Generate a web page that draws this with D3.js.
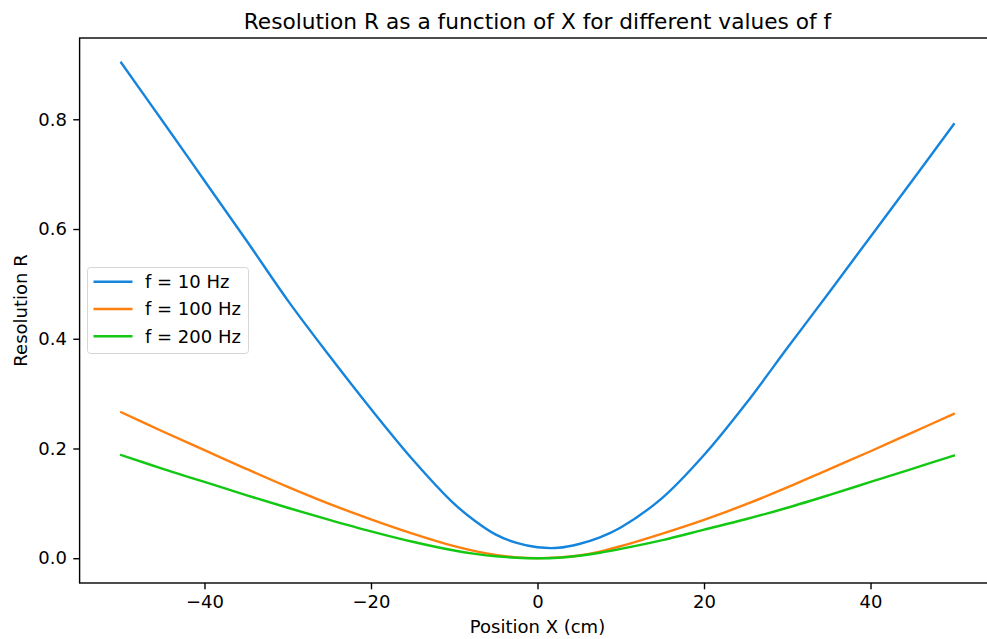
<!DOCTYPE html>
<html lang="en">
<head>
  <meta charset="UTF-8">
  <title>Resolution R</title>
  <script src="https://cdn.jsdelivr.net/npm/d3@7"></script>
  <style>
    body { margin: 0; background: #fff; }
    svg { display: block; font-family: "DejaVu Sans", sans-serif; }
  </style>
</head>
<body>
  <div id="chart"></div>
  <script>
    // positions X (cm) where the curves were read
    const positions = [-50, -45, -40, -35, -30, -25, -20, -15, -10, -7.5, -5, -2.5, 0,
      2.5, 5, 7.5, 10, 15, 20, 25, 30, 35, 40, 45, 50]

    const r10 = [0.903, 0.796, 0.688, 0.580, 0.470, 0.369, 0.272, 0.180, 0.099, 0.068, 0.043, 0.028, 0.020,
      0.019, 0.026, 0.038, 0.056, 0.110, 0.188, 0.281, 0.383, 0.484, 0.586, 0.688, 0.791]
    const r100 = [0.266, 0.231, 0.197, 0.163, 0.130, 0.099, 0.071, 0.045, 0.022, 0.013, 0.006, 0.0015, 0.000,
      0.0015, 0.005, 0.012, 0.022, 0.045, 0.070, 0.098, 0.129, 0.162, 0.195, 0.229, 0.263]
    const r200 = [0.188, 0.163, 0.139, 0.115, 0.092, 0.070, 0.049, 0.030, 0.014, 0.008, 0.0035, 0.001, 0.000,
      0.001, 0.0045, 0.010, 0.017, 0.033, 0.052, 0.071, 0.092, 0.115, 0.139, 0.163, 0.187]

    const seriesNames = ['f = 10 Hz', 'f = 100 Hz', 'f = 200 Hz']
    const seriesColors = ['#1584dc', '#ff7f0e', '#13c813']
    const xTicks = [-40, -20, 0, 20, 40]
    const yTicks = [0.0, 0.2, 0.4, 0.6, 0.8]

    const width = 987
    const height = 639
    const plotLeft = 79.6, plotRight = 995.4, plotTop = 38, plotBottom = 583

    const svg = d3.select('#chart')
      .append('svg')
      .attr('width', width)
      .attr('height', height)

    const x = d3.scaleLinear().domain([-55, 55]).range([plotLeft, plotRight])
    const y = d3.scaleLinear().domain([-0.04515, 0.94815]).range([plotBottom, plotTop])

    const series = [r10, r100, r200].map((vals, i) => ({
      name: seriesNames[i],
      color: seriesColors[i],
      points: positions.map((p, j) => [p, vals[j]])
    }))

    const line = d3.line()
      .x(d => x(d[0]))
      .y(d => y(d[1]))
      .curve(d3.curveCatmullRom.alpha(0.5))

    svg.selectAll('path.curve')
      .data(series)
      .enter()
      .append('path')
      .attr('class', 'curve')
      .attr('d', d => line(d.points))
      .attr('fill', 'none')
      .attr('stroke', d => d.color)
      .attr('stroke-width', 2.4)
      .attr('stroke-linejoin', 'round')
      .attr('stroke-linecap', 'square')

    // axes
    const fmtMinus = d => d3.format('d')(d).replace('-', '\u2212')

    const xAxis = d3.axisBottom(x)
      .tickValues(xTicks)
      .tickFormat(fmtMinus)
      .tickSize(6.3)
      .tickPadding(6.3)

    const yAxis = d3.axisLeft(y)
      .tickValues(yTicks)
      .tickFormat(d3.format('.1f'))
      .tickSize(6.3)
      .tickPadding(6.3)

    const gx = svg.append('g')
      .attr('transform', `translate(0, ${plotBottom})`)
      .call(xAxis)
    const gy = svg.append('g')
      .attr('transform', `translate(${plotLeft}, 0)`)
      .call(yAxis)

    for (const g of [gx, gy]) {
      g.select('.domain').remove()
      g.selectAll('line').attr('stroke', '#000').attr('stroke-width', 1.4)
      g.selectAll('text')
        .attr('fill', '#000')
        .style('font-size', '18px')
        .style('font-family', '"DejaVu Sans", sans-serif')
    }

    // frame
    svg.append('rect')
      .attr('x', plotLeft)
      .attr('y', plotTop)
      .attr('width', plotRight - plotLeft)
      .attr('height', plotBottom - plotTop)
      .attr('fill', 'none')
      .attr('stroke', '#000')
      .attr('stroke-width', 1.4)

    svg.append('text')
      .attr('x', (plotLeft + plotRight) / 2)
      .attr('y', 29)
      .attr('text-anchor', 'middle')
      .style('font-size', '21.7px')
      .text('Resolution R as a function of X for different values of f')

    svg.append('text')
      .attr('x', (plotLeft + plotRight) / 2)
      .attr('y', 633)
      .attr('text-anchor', 'middle')
      .style('font-size', '18px')
      .text('Position X (cm)')

    svg.append('text')
      .attr('transform', `translate(27, ${(plotTop + plotBottom) / 2}) rotate(-90)`)
      .attr('text-anchor', 'middle')
      .style('font-size', '18px')
      .text('Resolution R')

    // legend
    const legend = svg.append('g')
      .attr('transform', 'translate(87.5, 267.5)')

    legend.append('rect')
      .attr('width', 161)
      .attr('height', 86)
      .attr('rx', 3)
      .attr('fill', 'rgba(255,255,255,0.8)')
      .attr('stroke', '#d6d6d6')
      .attr('stroke-width', 1)

    const items = legend.selectAll('g.item')
      .data(series)
      .enter()
      .append('g')
      .attr('class', 'item')
      .attr('transform', (d, i) => `translate(0, ${14.2 + i * 27.3})`)

    items.append('line')
      .attr('x1', 6)
      .attr('x2', 45)
      .attr('stroke', d => d.color)
      .attr('stroke-width', 2.4)

    items.append('text')
      .attr('x', 57.5)
      .attr('dy', '0.36em')
      .style('font-size', '18px')
      .text(d => d.name)
  </script>
</body>
</html>
